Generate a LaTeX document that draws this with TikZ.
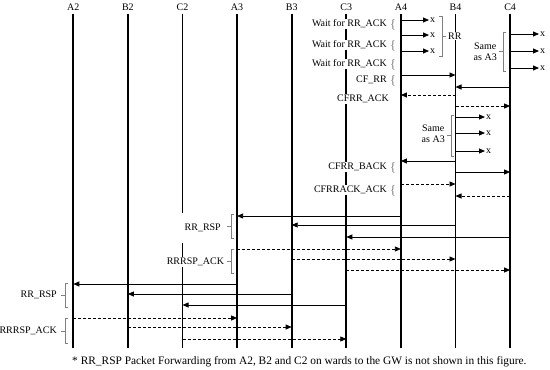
\documentclass[tikz,border=0pt]{standalone}
\usepackage{fontspec}
\setmainfont{Liberation Serif}
\usetikzlibrary{arrows.meta}

\begin{document}
\begin{tikzpicture}[x=1pt,y=-1pt,
  font=\fontsize{10}{11}\selectfont,
  life/.style={line width=1.8pt},
  msg/.style={-{Triangle[length=6pt,width=5pt]},line width=0.8pt},
  ack/.style={msg,dash pattern=on 3pt off 2pt},
  lbl/.style={anchor=east,fill=white,inner sep=1pt},
  brc/.style={text=gray,font=\fontsize{13}{13}\selectfont,inner sep=0pt},
  bkt/.style={gray,line width=0.6pt},
  xend/.style={inner sep=1pt,anchor=west}]

\useasboundingbox (0,0) rectangle (550,370);

\node (A2) at (73.3,7) {A2};
\node (B2) at (127.9,7) {B2};
\node (C2) at (182.5,7) {C2};
\node (A3) at (237.1,7) {A3};
\node (B3) at (291.7,7) {B3};
\node (C3) at (346.3,7) {C3};
\node (A4) at (400.9,7) {A4};
\node (B4) at (455.5,7) {B4};
\node (C4) at (510.1,7) {C4};

\coordinate (A2e) at (73.3,348);
\coordinate (B2e) at (127.9,348);
\coordinate (C2e) at (182.5,348);
\coordinate (A3e) at (237.1,348);
\coordinate (B3e) at (291.7,348);
\coordinate (C3e) at (346.3,348);
\coordinate (A4e) at (400.9,348);
\coordinate (B4e) at (455.5,348);
\coordinate (C4e) at (510.1,348);

\draw[life] (A2) -- (A2e);
\draw[life] (B2) -- (B2e);
\draw[life] (C2) -- (C2e);
\draw[life] (A3) -- (A3e);
\draw[life] (B3) -- (B3e);
\draw[life] (C3) -- (C3e);
\draw[life] (A4) -- (A4e);
\draw[life] (B4) -- (B4e);
\draw[life] (C4) -- (C4e);

\node[lbl] (w1) at (388,24) {Wait for RR\_ACK};
\node[lbl] (w2) at (388,45) {Wait for RR\_ACK};
\node[lbl] (w3) at (388,64) {Wait for RR\_ACK};
\node[lbl] (cfrr) at (388,80) {CF\_RR};
\node[lbl] (cfrrack) at (390,99) {CFRR\_ACK};
\node[lbl] (cfrrback) at (388,167) {CFRR\_BACK};
\node[lbl] (cfrrackack) at (388,190) {CFRRACK\_ACK};
\node[brc] (bw1) at (393,25) {\{};
\node[brc] (bw2) at (393,46) {\{};
\node[brc] (bw3) at (393,65) {\{};
\node[brc] (bcf) at (393,81) {\{};
\node[brc] (bback) at (393,168) {\{};
\node[brc] (backack) at (393,191) {\{};

\node[xend] (xa1) at (429,20) {x};
\node[xend] (xa2) at (429,35) {x};
\node[xend] (xa3) at (429,51) {x};
\draw[msg] (A4 |- xa1) -- (xa1);
\draw[msg] (A4 |- xa2) -- (xa2);
\draw[msg] (A4 |- xa3) -- (xa3);
\draw[bkt] (439,16) -- (442,16) -- (442,56) -- (439,56) (442,36) -- (446,36);
\node[fill=white,inner sep=1pt,anchor=west] (rr) at (447,36) {RR};

\node[xend] (xc1) at (539,34) {x};
\node[xend] (xc2) at (539,51) {x};
\node[xend] (xc3) at (539,68) {x};
\draw[msg] (C4 |- xc1) -- (xc1);
\draw[msg] (C4 |- xc2) -- (xc2);
\draw[msg] (C4 |- xc3) -- (xc3);
\draw[bkt] (506,32) -- (503,32) -- (503,71) -- (506,71) (503,51) -- (499,51);
\node[anchor=east,align=center,inner sep=1pt] (samec) at (498,52) {Same\\as A3};

\draw[msg] (A4 |- 0,75) -- (B4 |- 0,75);
\draw[msg] (C4 |- 0,87) -- (B4 |- 0,87);
\draw[ack] (B4 |- 0,95) -- (A4 |- 0,95);
\draw[ack] (B4 |- 0,106) -- (C4 |- 0,106);

\node[xend] (xb1) at (485,117) {x};
\node[xend] (xb2) at (485,133) {x};
\node[xend] (xb3) at (485,151) {x};
\draw[msg] (B4 |- xb1) -- (xb1);
\draw[msg] (B4 |- xb2) -- (xb2);
\draw[msg] (B4 |- xb3) -- (xb3);
\draw[bkt] (454,115) -- (451,115) -- (451,156) -- (454,156) (451,135) -- (447,135);
\node[anchor=east,align=center,inner sep=1pt] (sameb) at (446,134) {Same\\as A3};

\draw[msg] (B4 |- 0,161) -- (A4 |- 0,161);
\draw[msg] (B4 |- 0,172) -- (C4 |- 0,172);
\draw[ack] (A4 |- 0,184) -- (B4 |- 0,184);
\draw[ack] (C4 |- 0,196) -- (B4 |- 0,196);

\node[lbl,text width=42pt,align=right,minimum height=30pt] (rsp1) at (222,228) {RR\_RSP};
\node[lbl,text width=54pt,align=right] (rspack1) at (222,262) {RRRSP\_ACK};
\draw[bkt] (234,214) -- (231,214) -- (231,238) -- (234,238) (231,226) -- (227,226);
\draw[bkt] (234,249) -- (231,249) -- (231,273) -- (234,273) (231,261) -- (227,261);

\draw[msg] (A4 |- 0,216) -- (A3 |- 0,216);
\draw[msg] (B4 |- 0,225) -- (B3 |- 0,225);
\draw[msg] (C4 |- 0,237) -- (C3 |- 0,237);
\draw[ack] (A3 |- 0,249) -- (A4 |- 0,249);
\draw[ack] (B3 |- 0,259) -- (B4 |- 0,259);
\draw[ack] (C3 |- 0,270) -- (C4 |- 0,270);

\node[lbl] (rsp2) at (58,295) {RR\_RSP};
\node[lbl] (rspack2) at (58,331) {RRRSP\_ACK};
\draw[bkt] (68,283) -- (65,283) -- (65,307) -- (68,307) (65,295) -- (61,295);
\draw[bkt] (68,318) -- (65,318) -- (65,343) -- (68,343) (65,331) -- (61,331);

\draw[msg] (A3 |- 0,284) -- (A2 |- 0,284);
\draw[msg] (B3 |- 0,294) -- (B2 |- 0,294);
\draw[msg] (C3 |- 0,305) -- (C2 |- 0,305);
\draw[ack] (A2 |- 0,318) -- (A3 |- 0,318);
\draw[ack] (B2 |- 0,327) -- (B3 |- 0,327);
\draw[ack] (C2 |- 0,339) -- (C3 |- 0,339);

\node[anchor=west,inner sep=0pt,font=\fontsize{11.4}{12}\selectfont] (note) at (72,362) {* RR\_RSP Packet Forwarding from A2, B2 and C2 on wards to the GW is not shown in this figure.};

\end{tikzpicture}
\end{document}
